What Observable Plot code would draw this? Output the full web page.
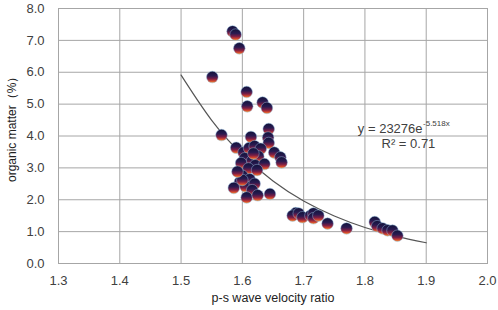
<!DOCTYPE html>
<html>
<head>
<meta charset="utf-8">
<script src="https://cdn.jsdelivr.net/npm/d3@7"></script>
<script src="https://cdn.jsdelivr.net/npm/@observablehq/plot@0.6"></script>
<style>
  html, body { margin: 0; padding: 0; background: #fff; }
  #chart { width: 498px; height: 310px; }
</style>
</head>
<body>
<div id="chart"></div>
<script>
// p-s wave velocity ratio (x) and organic matter % (y)
const vpvs = [1.584,1.589,1.595,1.551,1.607,1.608,1.633,1.640,1.643,1.642,1.643,1.566,1.614,1.590,1.602,1.611,1.620,1.630,1.604,1.616,1.626,1.652,1.662,1.664,1.621,1.636,1.598,1.610,1.624,1.600,1.612,1.596,1.586,1.605,1.620,1.616,1.607,1.625,1.645,1.600,1.592,1.618,1.687,1.682,1.692,1.698,1.711,1.716,1.716,1.724,1.739,1.770,1.816,1.820,1.829,1.837,1.845,1.853];
const organic = [7.28,7.18,6.75,5.85,5.38,4.93,5.05,4.88,4.22,3.95,3.78,4.03,3.97,3.63,3.48,3.62,3.68,3.60,3.30,3.22,3.36,3.48,3.33,3.17,3.08,3.12,3.15,2.98,2.93,2.75,2.64,2.55,2.37,2.42,2.50,2.30,2.07,2.14,2.18,2.62,2.88,3.45,1.58,1.50,1.57,1.45,1.50,1.57,1.42,1.50,1.25,1.10,1.30,1.17,1.10,1.04,1.03,0.87];

// exponential trendline y = 23276 e^(-5.518x), readings along the drawn curve
const trendX = [1.50,1.55,1.60,1.65,1.70,1.75,1.80,1.85,1.90];
const trendY = [5.91,4.49,3.41,2.59,1.96,1.49,1.13,0.86,0.65];

const xTicks = [1.3,1.4,1.5,1.6,1.7,1.8,1.9,2.0];
const yTicks = [0,1,2,3,4,5,6,7,8];

const equation = "y = 23276e";
const exponent = "-5.518x";
const rSquared = "R² = 0.71";
const xLabel = "p-s wave velocity ratio";
const yLabel = "organic matter（%）";

const points = vpvs.map((v, i) => ({x: v, y: organic[i]}));
const trend = trendX.map((v, i) => ({x: v, y: trendY[i]}));

const defs = () => {
  const ns = "http://www.w3.org/2000/svg";
  const d = document.createElementNS(ns, "defs");
  d.innerHTML = `
    <linearGradient id="sphere" x1="0" y1="0" x2="0" y2="1">
      <stop offset="0%" stop-color="#10123a"/>
      <stop offset="40%" stop-color="#2a1a50"/>
      <stop offset="65%" stop-color="#7a1d45"/>
      <stop offset="85%" stop-color="#d2452f"/>
      <stop offset="100%" stop-color="#f5a13e"/>
    </linearGradient>`;
  return d;
};

const font = "'Liberation Sans', Arial, sans-serif";

const plot = Plot.plot({
  width: 498,
  height: 310,
  marginLeft: 58,
  marginRight: 11,
  marginTop: 8,
  marginBottom: 47,
  style: {fontFamily: font, background: "#fff", color: "#404040"},
  x: {domain: [1.3, 2.0], ticks: xTicks, tickFormat: d3.format(".1f")},
  y: {domain: [0, 8], ticks: yTicks, tickFormat: d3.format(".1f")},
  marks: [
    defs,
    Plot.gridX(xTicks, {stroke: "#a6a6a6", strokeOpacity: 1, strokeWidth: 1}),
    Plot.gridY(yTicks, {stroke: "#a6a6a6", strokeOpacity: 1, strokeWidth: 1}),
    Plot.frame({stroke: "#a6a6a6", strokeWidth: 1}),
    Plot.axisX(xTicks, {tickSize: 0, tickPadding: 12, fontSize: 13, fill: "#404040", label: null, tickFormat: d3.format(".1f")}),
    Plot.axisY(yTicks, {tickSize: 0, tickPadding: 14, fontSize: 13, fill: "#404040", label: null, tickFormat: d3.format(".1f")}),
    Plot.line(trend, {x: "x", y: "y", curve: "natural", stroke: "#555", strokeWidth: 1.2}),
    Plot.dot(points, {x: "x", y: "y", r: 5.8, fill: "url(#sphere)", stroke: "#8fb8dc", strokeWidth: 0.6, strokeOpacity: 0.8}),
    Plot.text([equation], {x: 1.894, y: 4.24, text: d => d, textAnchor: "end", fontSize: 13, fill: "#404040"}),
    Plot.text([exponent], {x: 1.894, y: 4.24, text: d => d, textAnchor: "start", fontSize: 8, dy: -5, dx: 0.5, fill: "#404040"}),
    Plot.text([rSquared], {x: 1.871, y: 3.76, text: d => d, textAnchor: "middle", fontSize: 13, fill: "#404040"}),
    Plot.text([xLabel], {frameAnchor: "bottom", text: d => d, dy: 38, fontSize: 12.5, fill: "#222"}),
    Plot.text([yLabel], {frameAnchor: "left", text: d => d, dx: -46, dy: 46, rotate: -90, fontSize: 12, fill: "#222"})
  ]
});
document.getElementById("chart").appendChild(plot);
</script>
</body>
</html>
